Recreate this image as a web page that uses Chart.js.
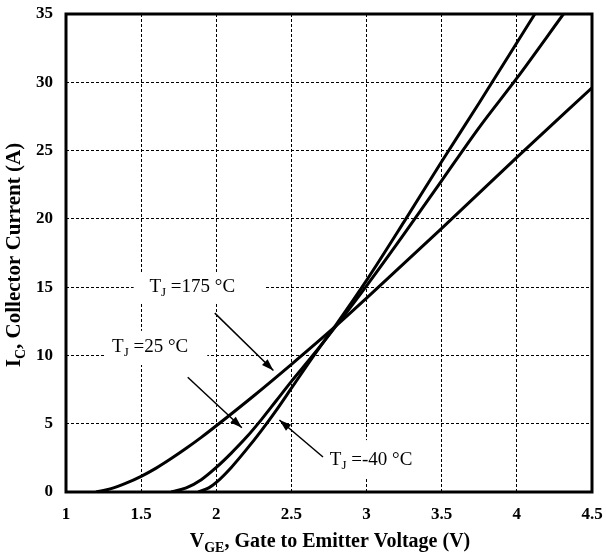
<!DOCTYPE html>
<html>
<head>
<meta charset="utf-8">
<script src="https://cdn.jsdelivr.net/npm/chart.js@4"></script>
<style>
  body { margin: 0; background: #fff; }
  #wrap { width: 606px; height: 558px; }
</style>
</head>
<body>
<div id="wrap"><canvas id="c" width="606" height="558"></canvas></div>
<script>
// Transfer characteristics
const vge175 = [1.2, 1.3, 1.4, 1.5, 1.6, 1.7, 1.8, 1.9, 2.0, 2.25, 2.5, 2.8, 3.0, 3.5, 4.0, 4.5];
const ic175  = [0, 0.25, 0.65, 1.15, 1.75, 2.45, 3.2, 4.0, 4.85, 7.05, 9.35, 12.2, 14.2, 19.3, 24.5, 29.6];

const vge25 = [1.7, 1.8, 1.9, 2.0, 2.1, 2.2, 2.3, 2.4, 2.5, 2.65, 2.8, 3.0, 3.25, 3.5, 3.75, 4.0, 4.31];
const ic25  = [0, 0.3, 0.9, 1.8, 2.85, 4.0, 5.3, 6.7, 8.1, 10.1, 12.2, 15.1, 18.9, 22.8, 26.7, 30.3, 35];

const vgeM40 = [1.88, 1.95, 2.0, 2.1, 2.2, 2.3, 2.4, 2.5, 2.65, 2.8, 3.0, 3.25, 3.5, 3.75, 4.0, 4.12];
const icM40  = [0, 0.3, 0.7, 1.8, 3.1, 4.5, 6.0, 7.6, 10.0, 12.3, 15.5, 19.8, 24.2, 28.5, 32.9, 35];

const xTicks = [1, 1.5, 2, 2.5, 3, 3.5, 4, 4.5];
const yTicks = [0, 5, 10, 15, 20, 25, 30, 35];

// label callouts in data units: text centre, white box, arrow tail, arrow head
const callouts = [
  { main: 'T', sub: 'J', rest: ' =175 \u00B0C', at: [1.84, 15.0], box: [1.45, 2.33, 13.9, 16.0], from: [1.99, 13.1], to: [2.38, 8.9] },
  { main: 'T', sub: 'J', rest: ' =25 \u00B0C',  at: [1.56, 10.6], box: [1.26, 1.94, 9.3, 11.8], from: [1.81, 8.4], to: [2.17, 4.7] },
  { main: 'T', sub: 'J', rest: ' =-40 \u00B0C', at: [3.03, 2.34], box: [2.70, 3.37, 1.05, 3.8], from: [2.71, 2.56], to: [2.42, 5.27] }
];

const serif = '"Liberation Serif", "Times New Roman", serif';

function toPts(xs, ys) {
  return xs.map((x, i) => ({ x: x, y: ys[i] }));
}

// draws "Main" + subscript + rest, centred on x
function subText(ctx, main, sub, rest, x, y, size, weight) {
  const small = Math.round(size * 0.68);
  ctx.font = weight + ' ' + size + 'px ' + serif;
  const w1 = ctx.measureText(main).width;
  const w3 = ctx.measureText(rest).width;
  ctx.font = weight + ' ' + small + 'px ' + serif;
  const w2 = ctx.measureText(sub).width;
  const left = x - (w1 + w2 + w3) / 2;
  ctx.textAlign = 'left';
  ctx.textBaseline = 'middle';
  ctx.font = weight + ' ' + size + 'px ' + serif;
  ctx.fillText(main, left, y);
  ctx.font = weight + ' ' + small + 'px ' + serif;
  ctx.fillText(sub, left + w1, y + size * 0.3);
  ctx.font = weight + ' ' + size + 'px ' + serif;
  ctx.fillText(rest, left + w1 + w2, y);
}

const decor = {
  id: 'decor',
  afterDatasetsDraw(chart) {
    const ctx = chart.ctx;
    const xs = chart.scales.x, ys = chart.scales.y;
    const a = chart.chartArea;
    ctx.save();
    // callouts
    callouts.forEach(c => {
      const bx0 = xs.getPixelForValue(c.box[0]), bx1 = xs.getPixelForValue(c.box[1]);
      const by0 = ys.getPixelForValue(c.box[3]), by1 = ys.getPixelForValue(c.box[2]);
      ctx.fillStyle = '#fff';
      ctx.fillRect(bx0, by0, bx1 - bx0, by1 - by0);
      ctx.fillStyle = '#000';
      subText(ctx, c.main, c.sub, c.rest, xs.getPixelForValue(c.at[0]), ys.getPixelForValue(c.at[1]), 19, 'normal');
      const x0 = xs.getPixelForValue(c.from[0]), y0 = ys.getPixelForValue(c.from[1]);
      const x1 = xs.getPixelForValue(c.to[0]), y1 = ys.getPixelForValue(c.to[1]);
      ctx.strokeStyle = '#000';
      ctx.lineWidth = 1.5;
      ctx.beginPath();
      ctx.moveTo(x0, y0);
      ctx.lineTo(x1, y1);
      ctx.stroke();
      const ang = Math.atan2(y1 - y0, x1 - x0);
      const L = 12, W = 4;
      ctx.beginPath();
      ctx.moveTo(x1, y1);
      ctx.lineTo(x1 - L * Math.cos(ang) + W * Math.sin(ang), y1 - L * Math.sin(ang) - W * Math.cos(ang));
      ctx.lineTo(x1 - L * Math.cos(ang) - W * Math.sin(ang), y1 - L * Math.sin(ang) + W * Math.cos(ang));
      ctx.closePath();
      ctx.fill();
    });
    // frame
    ctx.strokeStyle = '#000';
    ctx.lineWidth = 3;
    ctx.strokeRect(a.left, a.top, a.right - a.left, a.bottom - a.top);
    // axis titles
    ctx.fillStyle = '#000';
    subText(ctx, 'V', 'GE', ', Gate to Emitter Voltage (V)', (a.left + a.right) / 2 + 1, 542, 20, 'bold');
    ctx.translate(15, 255);
    ctx.rotate(-Math.PI / 2);
    subText(ctx, 'I', 'C', ', Collector Current (A)', 0, 0, 21, 'bold');
    ctx.restore();
  }
};

const lineStyle = { borderColor: '#000', borderWidth: 3, pointRadius: 0, fill: false, cubicInterpolationMode: 'monotone' };

new Chart(document.getElementById('c'), {
  type: 'line',
  data: {
    datasets: [
      Object.assign({ label: 'TJ=175 \u00B0C', data: toPts(vge175, ic175) }, lineStyle),
      Object.assign({ label: 'TJ=25 \u00B0C', data: toPts(vge25, ic25) }, lineStyle),
      Object.assign({ label: 'TJ=-40 \u00B0C', data: toPts(vgeM40, icM40) }, lineStyle)
    ]
  },
  options: {
    responsive: false,
    animation: false,
    layout: { padding: { left: 0, right: 14, top: 14, bottom: 0 } },
    plugins: { legend: { display: false }, tooltip: { enabled: false } },
    scales: {
      x: {
        type: 'linear', min: 1, max: 4.5,
        afterFit(s) { s.height = 66; s.paddingLeft = 0; s.paddingRight = 0; },
        afterBuildTicks(s) { s.ticks = xTicks.map(v => ({ value: v })); },
        grid: { color: '#000', lineWidth: 1, drawTicks: false },
        border: { display: false, dash: [3, 2] },
        ticks: { color: '#000', padding: 12, font: { family: serif, size: 17, weight: 'bold' }, callback: v => String(v) }
      },
      y: {
        type: 'linear', min: 0, max: 35,
        afterFit(s) { s.width = 66; s.paddingTop = 0; s.paddingBottom = 0; },
        afterBuildTicks(s) { s.ticks = yTicks.map(v => ({ value: v })); },
        grid: { color: '#000', lineWidth: 1, drawTicks: false },
        border: { display: false, dash: [3, 2] },
        ticks: { color: '#000', padding: 13, font: { family: serif, size: 17, weight: 'bold' }, callback: v => String(v) }
      }
    }
  },
  plugins: [decor]
});
</script>
</body>
</html>
